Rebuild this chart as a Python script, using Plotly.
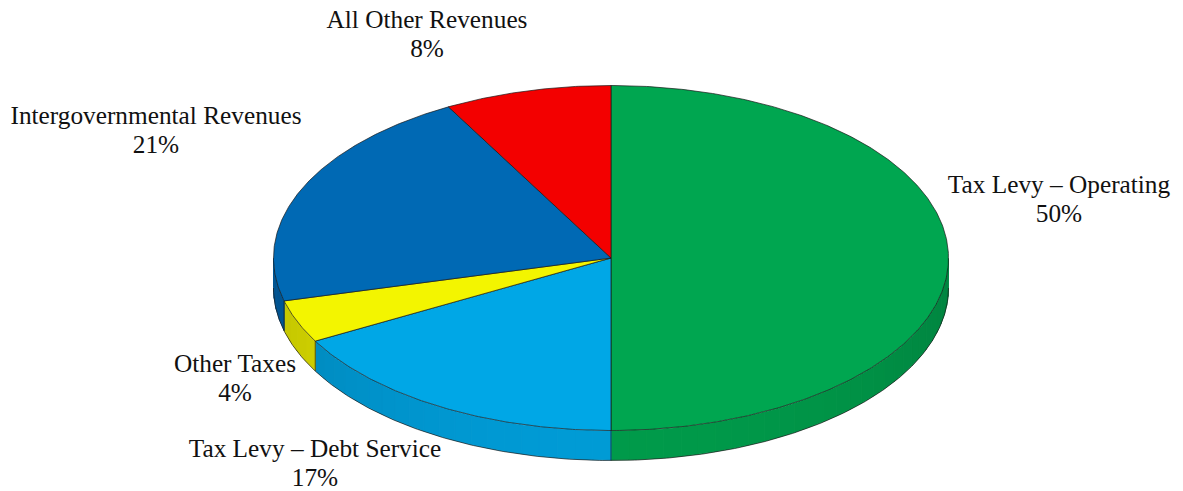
import math
import plotly.graph_objects as go

# Revenue shares, clockwise from twelve o'clock
categories = ["Tax Levy – Operating", "Tax Levy – Debt Service", "Other Taxes",
              "Intergovernmental Revenues", "All Other Revenues"]
shares = [50, 17, 4, 21, 8]
colors = ["#00A650", "#00A7E6", "#F3F500", "#0069B4", "#F30000"]

# Pie geometry on a pixel-sized plot area
WIDTH, HEIGHT = 1183, 491
CX, CY, RX, RY, DEPTH = 611, 258, 337.5, 172.5, 30
OUTLINE = "#1a1a1a"
LABEL_ANCHORS = [(1059, 201), (315, 465), (235, 380), (156, 132), (427, 36)]
LINE_GAP = 14.3
FONT_SIZE = 25.3


def rim(deg, drop=0.0):
    t = math.radians(deg)
    return CX + RX * math.sin(t), CY - RY * math.cos(t) + drop


def arc(a, b, drop=0.0, step=0.5):
    n = max(2, int(abs(b - a) / step) + 1)
    return [rim(a + (b - a) * i / (n - 1), drop) for i in range(n)]


def shade(hex_color, factor):
    r, g, b = (int(hex_color[i:i + 2], 16) for i in (1, 3, 5))
    return f"rgb({int(r * factor)},{int(g * factor)},{int(b * factor)})"


def side_factor(deg):
    # Rim is darkest near the silhouette and lighter toward the front
    return 0.80 + 0.13 * abs(math.cos(math.radians(deg))) ** 1.5


def strip(points, fill):
    # Stroked in its own colour so neighbouring strips leave no seam
    xs = [p[0] for p in points] + [points[0][0]]
    ys = [p[1] for p in points] + [points[0][1]]
    return go.Scatter(
        x=xs, y=ys, mode="lines", fill="toself", fillcolor=fill,
        line=dict(color=fill, width=1.0), hoverinfo="skip", showlegend=False,
    )


def wedge(points, fill, line_width=0.7):
    xs = [p[0] for p in points] + [points[0][0]]
    ys = [p[1] for p in points] + [points[0][1]]
    return go.Scatter(
        x=xs, y=ys, mode="lines", fill="toself", fillcolor=fill,
        line=dict(color=OUTLINE, width=line_width), hoverinfo="skip", showlegend=False,
    )


def outline(points, width=0.7):
    return go.Scatter(
        x=[p[0] for p in points], y=[p[1] for p in points], mode="lines",
        line=dict(color=OUTLINE, width=width), hoverinfo="skip", showlegend=False,
    )


# Slice angle ranges derive from the shares
total = sum(shares)
edges = [0.0]
for s in shares:
    edges.append(edges[-1] + 360.0 * s / total)

fig = go.Figure()

# Front wall of the disc, in narrow shaded strips
for i, color in enumerate(colors):
    a = max(edges[i], 90.0)
    b = min(edges[i + 1], 270.0)
    if b <= a:
        continue
    strips = max(1, int((b - a) / 3))
    for k in range(strips):
        a0 = a + (b - a) * k / strips
        a1 = a + (b - a) * (k + 1) / strips
        band = arc(a0, a1, 0.5) + arc(a1, a0, DEPTH - 0.5)
        fig.add_trace(strip(band, shade(color, side_factor((a0 + a1) / 2))))

# Lower edge of the wall and the vertical joints between slices
fig.add_trace(outline(arc(90, 270, DEPTH)))
for deg in edges:
    if 90 <= deg <= 270:
        fig.add_trace(outline([rim(deg), rim(deg, DEPTH)]))

# Top face
for i, color in enumerate(colors):
    face = [(CX, CY)] + arc(edges[i], edges[i + 1])
    fig.add_trace(wedge(face, color))

# Category labels, two lines each
label_x, label_y, label_text = [], [], []
for name, share, (x, y) in zip(categories, shares, LABEL_ANCHORS):
    label_x += [x, x]
    label_y += [y - LINE_GAP, y + LINE_GAP]
    label_text += [name, f"{share}%"]
fig.add_trace(go.Scatter(
    x=label_x, y=label_y, text=label_text, mode="text", textposition="middle center",
    textfont=dict(family="Liberation Serif", size=FONT_SIZE, color="#111111"),
    hoverinfo="skip", showlegend=False, cliponaxis=False,
))

fig.update_xaxes(range=[0, WIDTH], visible=False, fixedrange=True)
fig.update_yaxes(range=[HEIGHT, 0], visible=False, fixedrange=True)
fig.update_layout(
    width=WIDTH, height=HEIGHT, margin=dict(l=0, r=0, t=0, b=0),
    paper_bgcolor="white", plot_bgcolor="white", showlegend=False,
)
fig.write_html("out.html", config={"displayModeBar": False})
